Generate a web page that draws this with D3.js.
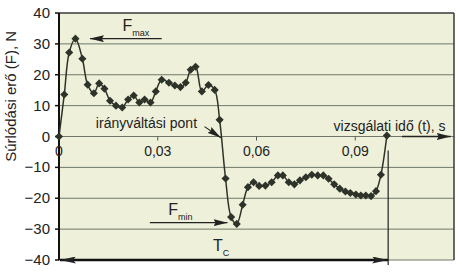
<!DOCTYPE html>
<html lang="hu">
<head>
    <meta charset="UTF-8">
    <title>surlodasi ero</title>
    <script type="text/javascript" src="https://d3js.org/d3.v7.min.js"></script>
    <style>
        body { margin: 0; background: #fff; }
        text { font-family: "Liberation Sans", Arial, sans-serif; fill: #222; }
    </style>
</head>
<body>
<svg class="chart"></svg>

<script type="text/javascript">

    const width = 462;
    const height = 273;

    // time (s) and friction force (N)
    const times = [0, 0.0016, 0.0031, 0.005, 0.0071, 0.0087, 0.0106, 0.0122, 0.0138, 0.0155,
        0.0173, 0.0192, 0.021, 0.0227, 0.0244, 0.026, 0.0278, 0.0294, 0.0312, 0.0334,
        0.0352, 0.0369, 0.0385, 0.04, 0.0415, 0.0434, 0.0454, 0.0473, 0.0488, 0.0506,
        0.0523, 0.054, 0.0558, 0.0574, 0.0591, 0.0608, 0.0627, 0.0646, 0.0665, 0.068,
        0.0698, 0.0715, 0.0732, 0.075, 0.0768, 0.0786, 0.0803, 0.0819, 0.0836, 0.0853,
        0.087, 0.0885, 0.0902, 0.0917, 0.0932, 0.0948, 0.0963, 0.0978, 0.0996];
    const forces = [0, 13.6, 27.2, 31.7, 25.2, 16.8, 14, 17.2, 15.5, 11.6,
        10, 9.4, 12, 13.3, 11, 12, 11, 14.6, 18.4, 17.4,
        16.5, 16, 17.4, 21.6, 22.6, 14.6, 16.7, 15.1, 5.4, -13.6,
        -26.1, -28.3, -22.1, -16.4, -14.8, -16, -15.9, -14.8, -12.6, -12.6,
        -14.8, -15.5, -14.2, -13.2, -12.4, -12.6, -12.6, -13.7, -15.5, -16.9,
        -17.8, -18.3, -18.8, -19.1, -19.1, -19.3, -17.7, -12.4, 0.3];

    const yTicks = [40, 30, 20, 10, 0, -10, -20, -30, -40];
    const xTicks = [0, 0.03, 0.06, 0.09];
    const xTickLabels = ["0", "0,03", "0,06", "0,09"];

    const margin = {left: 59, right: 8, top: 13, bottom: 13};

    let svg = d3.select(".chart")
        .attr("width", width)
        .attr("height", height);

    let x = d3.scaleLinear().domain([0, 0.12]).range([margin.left, width - margin.right]);
    let y = d3.scaleLinear().domain([-40, 40]).range([height - margin.bottom, margin.top]);

    let points = times.map((t, i) => ({t: t, f: forces[i]}));

    // arrow markers
    let defs = svg.append("defs");
    defs.append("marker")
        .attr("id", "head")
        .attr("viewBox", "0 0 14 7")
        .attr("refX", 14).attr("refY", 3.5)
        .attr("markerWidth", 14).attr("markerHeight", 7)
        .attr("markerUnits", "userSpaceOnUse")
        .attr("orient", "auto-start-reverse")
        .append("path")
        .attr("d", "M0,0 L14,3.5 L0,7 L2,3.5 Z")
        .style("fill", "#222");
    defs.append("marker")
        .attr("id", "headBig")
        .attr("viewBox", "0 0 16 7")
        .attr("refX", 16).attr("refY", 3.5)
        .attr("markerWidth", 16).attr("markerHeight", 7)
        .attr("markerUnits", "userSpaceOnUse")
        .attr("orient", "auto-start-reverse")
        .append("path")
        .attr("d", "M0,0 L16,3.5 L0,7 L3,3.5 Z")
        .style("fill", "#222");

    // plot background
    svg.append("rect")
        .attr("x", x(0)).attr("y", y(40))
        .attr("width", x(0.12) - x(0)).attr("height", y(-40) - y(40))
        .style("fill", "#eef0da");

    // horizontal grid
    svg.append("g").selectAll("line").data(yTicks).enter().append("line")
        .attr("x1", x(0)).attr("x2", x(0.12))
        .attr("y1", d => y(d)).attr("y2", d => y(d))
        .style("stroke", d => d === 40 ? "#3a3a3a" : "#6f7868")
        .style("stroke-width", d => d === 40 ? 1.5 : 1);

    // right border
    svg.append("line")
        .attr("x1", x(0.12)).attr("x2", x(0.12))
        .attr("y1", y(40)).attr("y2", y(-40))
        .style("stroke", "#3a3a3a").style("stroke-width", 1.5);

    // left axis
    svg.append("line")
        .attr("x1", x(0)).attr("x2", x(0))
        .attr("y1", y(40)).attr("y2", y(-40))
        .style("stroke", "#111").style("stroke-width", 2);

    // y tick labels
    svg.append("g").selectAll("text").data(yTicks).enter().append("text")
        .attr("x", x(0) - 9)
        .attr("y", d => y(d) + 5)
        .attr("text-anchor", "end")
        .style("font-size", "15px")
        .text(d => d < 0 ? "\u2212" + Math.abs(d) : d);

    // y ticks
    svg.append("g").selectAll("line").data(yTicks).enter().append("line")
        .attr("x1", x(0) - 4).attr("x2", x(0))
        .attr("y1", d => y(d)).attr("y2", d => y(d))
        .style("stroke", "#111").style("stroke-width", 1.5);

    // x ticks on the zero line
    svg.append("g").selectAll("line").data(xTicks.slice(1)).enter().append("line")
        .attr("x1", d => x(d)).attr("x2", d => x(d))
        .attr("y1", y(0)).attr("y2", y(0) + 4)
        .style("stroke", "#555").style("stroke-width", 1);

    svg.append("g").selectAll("text").data(xTicks).enter().append("text")
        .attr("x", d => x(d))
        .attr("y", y(0) + 19)
        .attr("text-anchor", "middle")
        .style("font-size", "14px")
        .text((d, i) => xTickLabels[i]);

    // y axis title
    svg.append("text")
        .attr("transform", "translate(16," + y(13) + ") rotate(-90)")
        .attr("text-anchor", "middle")
        .style("font-size", "15px")
        .text("Súrlódási erő (F), N");

    // T_C arrow along the bottom and vertical end line
    svg.append("line")
        .attr("x1", x(0) + 1).attr("x2", x(0.1))
        .attr("y1", y(-40)).attr("y2", y(-40))
        .style("stroke", "#111").style("stroke-width", 2.5)
        .attr("marker-start", "url(#headBig)")
        .attr("marker-end", "url(#headBig)");
    svg.append("line")
        .attr("x1", x(0.1)).attr("x2", x(0.1))
        .attr("y1", y(-4.5)).attr("y2", y(-41.6))
        .style("stroke", "#222").style("stroke-width", 1.2);

    // curve
    let line = d3.line()
        .x(d => x(d.t))
        .y(d => y(d.f))
        .curve(d3.curveCatmullRom);

    svg.append("path")
        .datum(points)
        .attr("d", line)
        .style("fill", "none")
        .style("stroke", "#2e3329")
        .style("stroke-width", 1.5);

    svg.append("g").selectAll("path").data(points).enter().append("path")
        .attr("transform", d => "translate(" + x(d.t) + "," + y(d.f) + ")")
        .attr("d", d3.symbol().type(d3.symbolDiamond2).size(42))
        .style("fill", "#2e3329");

    // annotations
    function arrow(t1, f1, t2, f2, w) {
        svg.append("line")
            .attr("x1", x(t1)).attr("y1", y(f1))
            .attr("x2", x(t2)).attr("y2", y(f2))
            .style("stroke", "#222").style("stroke-width", w || 1.3)
            .attr("marker-end", "url(#head)");
    }

    function subLabel(t, f, main, sub) {
        let txt = svg.append("text")
            .attr("x", x(t)).attr("y", y(f))
            .style("font-size", "16px");
        txt.append("tspan").text(main);
        txt.append("tspan").attr("dy", 5).style("font-size", "9px").text(sub);
    }

    arrow(0.0312, 31.7, 0.0094, 31.7);
    subLabel(0.0193, 34.2, "F", "max");

    arrow(0.0276, -27.9, 0.0512, -27.9);
    subLabel(0.0332, -25.3, "F", "min");

    subLabel(0.0468, -37, "T", "C");

    svg.append("text")
        .attr("x", x(0.0112)).attr("y", y(2.6))
        .style("font-size", "14px")
        .text("irányváltási pont");
    arrow(0.0442, 3.2, 0.0492, -0.4, 1.1);

    svg.append("text")
        .attr("x", x(0.0834)).attr("y", y(1.9))
        .style("font-size", "14px")
        .text("vizsgálati idő (t), s");
    arrow(0.1042, 0, 0.119, 0, 1.3);

</script>
</body>
</html>
